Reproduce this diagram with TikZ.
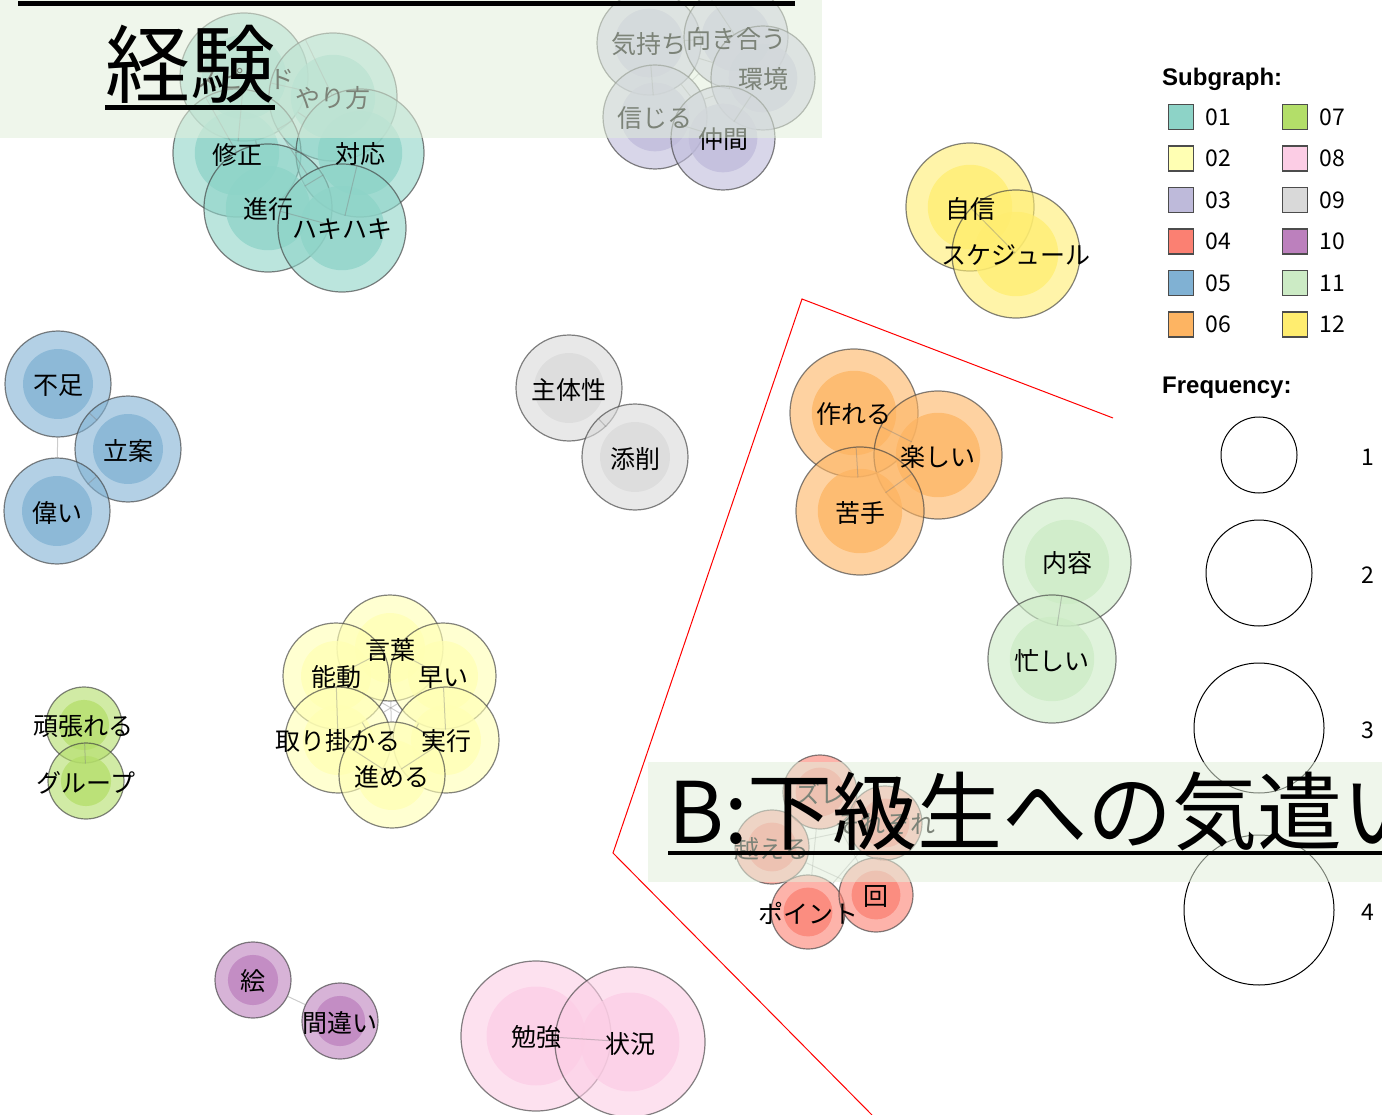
\documentclass[tikz,border=0pt]{standalone}
\usepackage{fontspec}
\setmainfont{Noto Sans CJK JP}
\newfontfamily\headfont{Liberation Sans}
\usetikzlibrary{positioning}
\definecolor{c01}{HTML}{8DD3C7}
\definecolor{c02}{HTML}{FFFFB3}
\definecolor{c03}{HTML}{BEBADA}
\definecolor{c04}{HTML}{FB8072}
\definecolor{c05}{HTML}{80B1D3}
\definecolor{c06}{HTML}{FDB462}
\definecolor{c07}{HTML}{B3DE69}
\definecolor{c08}{HTML}{FCCDE5}
\definecolor{c09}{HTML}{D9D9D9}
\definecolor{c10}{HTML}{BC80BD}
\definecolor{c11}{HTML}{CCEBC5}
\definecolor{c12}{HTML}{FFED6F}
\definecolor{bandc}{RGB}{226,239,219}
\newcommand{\kwnode}[5]{%
  \node[bubble, minimum size=2*#4 pt, fill=#5] (#1) at (#2,#3) {};
  \fill[#5, fill opacity=.75] (#1.center) circle [radius=0.66*#4 pt];}

\begin{document}
\begin{tikzpicture}[x=1pt, y=-1pt]
\tikzstyle{bubble}=[circle, draw=black!75, draw opacity=.65, fill opacity=.6, line width=1.2pt, inner sep=0pt]
\tikzstyle{link}=[draw=gray, opacity=.4, line width=1pt]
\tikzstyle{word}=[font=\fontsize{25}{28}\selectfont, inner sep=0pt, yshift=-1.5pt]
\tikzstyle{num}=[font=\fontsize{23}{26}\selectfont, inner sep=0pt]
\tikzstyle{head}=[font=\headfont\bfseries\fontsize{24}{28}\selectfont, inner sep=0pt]
\tikzstyle{title}=[font=\fontsize{85}{90}\selectfont, inner sep=0pt]
\tikzstyle{band}=[fill=bandc, fill opacity=.55]
\tikzstyle{swatch}=[rectangle, draw=black!70, line width=1.5pt, minimum size=25pt, inner sep=0pt]
\tikzstyle{ring}=[circle, draw, line width=1pt, inner sep=0pt]
\useasboundingbox (0,0) rectangle (1382,1115);
\clip (0,0) rectangle (1382,1115);

\foreach \n/\x/\y/\r/\c in {A1/244/77/64/c01, A2/333/97/64/c01, A3/237/153/64/c01, A4/360/153/64/c01,
  A5/268/208/64/c01, A6/342/228/64/c01,
  B1/390/648/53/c02, B2/336/676/53/c02, B3/443/676/53/c02, B4/338/740/53/c02, B5/446/740/53/c02, B6/392/775/53/c02,
  C1/649/43/52/c03, C2/736/37/52/c03, C3/763/78/52/c03, C4/655/117/52/c03, C5/723/138/52/c03,
  D1/820/792/37/c04, D2/885/823/37/c04, D3/772/847/37/c04, D4/808/912/37/c04, D5/876/895/37/c04,
  E1/58/384/53/c05, E2/128/449/53/c05, E3/57/511/53/c05,
  F1/854/413/64/c06, F2/938/455/64/c06, F3/860/511/64/c06,
  G1/84/725/38/c07, G2/86/781/38/c07,
  H1/536/1036/75/c08, H2/630/1042/75/c08,
  I1/569/388/53/c09, I2/635/457/53/c09,
  J1/253/980/38/c10, J2/340/1021/38/c10,
  K1/1067/562/64/c11, K2/1052/659/64/c11,
  L1/970/207/64/c12, L2/1016/254/64/c12}
  \kwnode{\n}{\x}{\y}{\r}{\c};

\path[link] (A1) edge (A2) edge (A3) edge (A4) edge (A5) edge (A6)
            (A2) edge (A3) edge (A4) edge (A5) edge (A6)
            (A3) edge (A4) edge (A5) edge (A6)
            (A4) edge (A5) edge (A6)
            (A5) edge (A6);
\path[link] (B1) edge (B2) edge (B3) edge (B4) edge (B5) edge (B6)
            (B2) edge (B3) edge (B4) edge (B5) edge (B6)
            (B3) edge (B4) edge (B5) edge (B6)
            (B4) edge (B5) edge (B6)
            (B5) edge (B6);
\path[link] (C1) edge (C2) edge (C3) edge (C4) edge (C5)
            (C2) edge (C3) edge (C4) edge (C5)
            (C3) edge (C4) edge (C5)
            (C4) edge (C5);
\path[link] (D1) edge (D2) edge (D3) edge (D4) edge (D5)
            (D2) edge (D3) edge (D4) edge (D5)
            (D3) edge (D4) edge (D5)
            (D4) edge (D5);
\path[link] (E1) edge (E2) edge (E3)
            (E2) edge (E3);
\path[link] (F1) edge (F2) edge (F3)
            (F2) edge (F3);
\path[link] (G1) edge (G2) (H1) edge (H2) (I1) edge (I2) (J1) edge (J2) (K1) edge (K2) (L1) edge (L2);

\foreach \n/\t in {A1/スピード, A2/やり方, A3/修正, A4/対応, A5/進行, A6/ハキハキ,
  B1/言葉, B2/能動, B3/早い, B4/取り掛かる, B5/実行, B6/進める,
  C1/気持ち, C2/向き合う, C3/環境, C4/信じる, C5/仲間,
  D1/ズレ, D2/それぞれ, D3/越える, D4/ポイント, D5/回,
  E1/不足, E2/立案, E3/偉い, F1/作れる, F2/楽しい, F3/苦手,
  G1/頑張れる, G2/グループ, H1/勉強, H2/状況, I1/主体性, I2/添削,
  J1/絵, J2/間違い, K1/内容, K2/忙しい, L1/自信, L2/スケジュール}
  \node[word] (\n t) at (\n) {\t};

\node[ring, minimum size=76pt] (Q1) at (1259,455) {};
\node[ring, minimum size=106pt] (Q2) at (1259,573) {};
\node[ring, minimum size=130pt] (Q3) at (1259,728) {};
\node[ring, minimum size=150pt] (Q4) at (1259,910) {};
\foreach \i/\y in {1/457, 2/575, 3/730, 4/912}
  \node[num] (N\i) at (1368,\y) {\i};

\fill[band] (0,0) rectangle (822,138);
\fill[band] (648,762) rectangle (1382,882);
\draw[line width=5pt] (18,4) -- (795,4);
\node[title, anchor=base west] (T1) at (105,97) {経験};
\draw[line width=5pt] ([yshift=-11pt]T1.base west) -- ([yshift=-11pt]T1.base east);
\node[title, anchor=base west] (T2) at (668,843) {B:下級生への気遣い};
\draw[line width=4pt] ([yshift=-10pt]T2.base west) -- ([yshift=-10pt]T2.base east);

\draw[red, line width=1pt] (1113,418) -- (802,299) -- (613,853) -- (872,1115);

\node[head, anchor=west] (SG) at (1162,79) {Subgraph:};
\foreach \a/\b [count=\i from 0] in {01/07, 02/08, 03/09, 04/10, 05/11, 06/12} {
  \node[swatch, fill=c\a] (S\a) at (1181,117+41.5*\i) {};
  \node[num, right=11pt of S\a] (L\a) {\a};
  \node[swatch, fill=c\b] (S\b) at (1295,117+41.5*\i) {};
  \node[num, right=11pt of S\b] (L\b) {\b};
}
\node[head, anchor=west] (FQ) at (1162,388) {Frequency:};
\end{tikzpicture}
\end{document}
